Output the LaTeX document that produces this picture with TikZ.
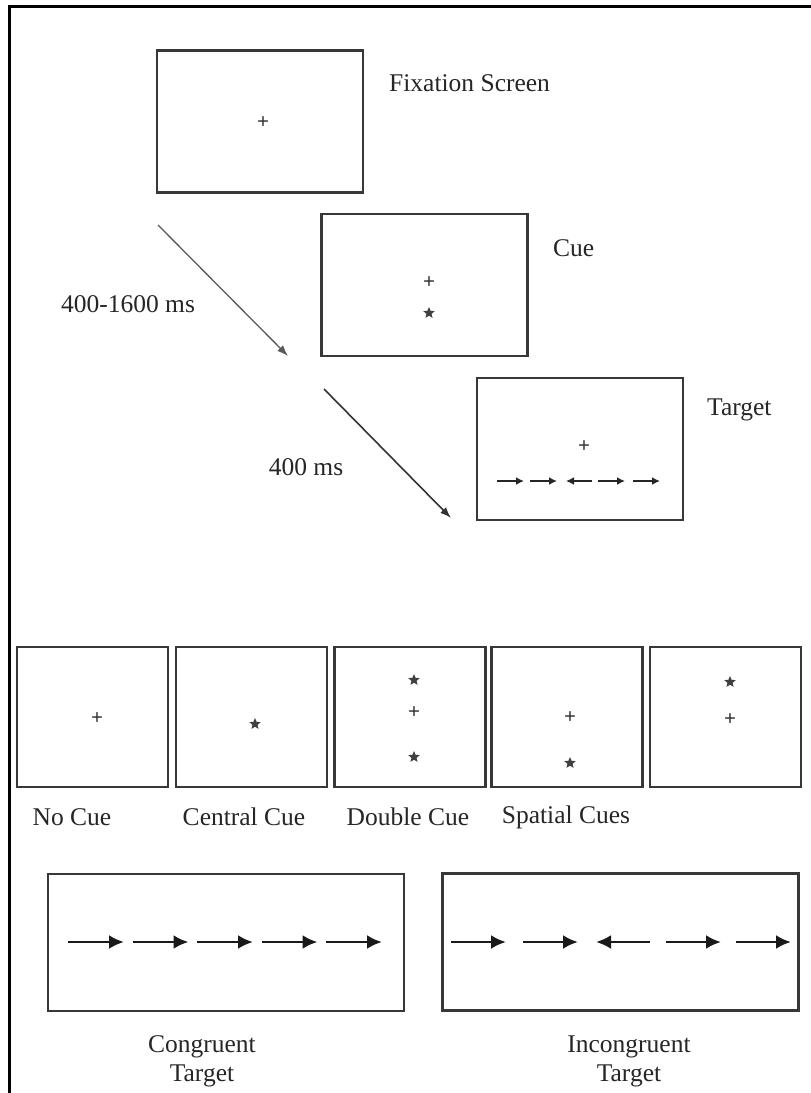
\documentclass[tikz,border=0pt]{standalone}
\usepackage{fontspec}
\setmainfont{Liberation Serif}
\usetikzlibrary{arrows.meta,shapes.geometric}
\begin{document}
\begin{tikzpicture}[x=1pt,y=-1pt,
  screen/.style={draw=black!78,line width=2.6pt,inner sep=0pt,minimum width=206pt,minimum height=142pt},
  cuebox/.style={screen,minimum width=151pt,minimum height=140pt},
  widebox/.style={screen,minimum width=356pt,minimum height=137pt},
  lbl/.style={font=\fontsize{25.5}{29}\selectfont,text=black!85,inner sep=0pt,align=center},
  fixcross/.style={font=\fontsize{21}{21}\selectfont\bfseries,text=black!80,inner sep=0pt},
  cuestar/.style={star,star points=5,star point ratio=2.2,fill=black!75,inner sep=0pt,minimum size=12pt},
  stimarrow/.style={line width=2.8pt,black!90,-{Latex[length=15pt,width=14pt]}},
  smallarrow/.style={line width=2pt,black!85,-{Latex[length=8pt,width=8pt]}},
  timearrow/.style={line width=1.3pt,black!65,-{Latex[length=11pt,width=8pt]}}]
\useasboundingbox (0,0) rectangle (811,1093);
\draw[line width=3pt] (9,1093) -- (9,6) -- (811,6);

% sequence of screens
\node[screen] (fix) at (260,121.5) {};
\node[fixcross] (fixc) at (263,123) {+};
\node[lbl,anchor=west] (fixl) at (389,83) {Fixation Screen};

\node[screen] (cue) at (424.5,285) {};
\node[fixcross] (cuec) at (429,283) {+};
\node[cuestar] (cues) at (429,313) {};
\node[lbl,anchor=west] (cuel) at (553,248) {Cue};

\node[screen] (tgt) at (580,449) {};
\node[fixcross] (tgtc) at (584,447) {+};
\node[lbl,anchor=west] (tgtl) at (707,410) {Target};
\foreach \xa in {497,530,598,633}
  \draw[smallarrow] (\xa,481) -- ++(27,0);
\draw[smallarrow] (592,481) -- (566,481);

% timing
\coordinate (t1a) at (158,225);
\coordinate (t1b) at (288,356);
\coordinate (t2a) at (324,389);
\coordinate (t2b) at (451,518);
\draw[timearrow] (t1a) -- (t1b);
\draw[timearrow,black!80,line width=1.6pt] (t2a) -- (t2b);
\node[lbl] (soa1) at (128,304) {400-1600 ms};
\node[lbl] (soa2) at (306,467) {400 ms};

% cue conditions
\node[cuebox] (nocue) at (92.5,717) {};
\node[cuebox] (central) at (251.5,717) {};
\node[cuebox] (double) at (410,717) {};
\node[cuebox] (spatup) at (567,717) {};
\node[cuebox] (spatdn) at (725.5,717) {};

\node[fixcross] (c1) at (97,719) {+};
\node[cuestar] (s2) at (255,724) {};
\node[cuestar] (s3a) at (414,680) {};
\node[fixcross] (c3) at (414,713) {+};
\node[cuestar] (s3b) at (414,757) {};
\node[fixcross] (c4) at (570,718) {+};
\node[cuestar] (s4) at (570,763) {};
\node[cuestar] (s5) at (730,682) {};
\node[fixcross] (c5) at (730,720) {+};

\node[lbl] (nocuel) at (72,817) {No Cue};
\node[lbl] (centrall) at (244,817) {Central Cue};
\node[lbl] (doublel) at (408,817) {Double Cue};
\node[lbl] (spatl) at (566,817) {Spatial Cues};

% flanker targets
\node[widebox] (cong) at (226,942.5) {};
\node[widebox] (incong) at (620.5,942) {};
\foreach \xa in {68,132.5,197,261.5,326}
  \draw[stimarrow] (\xa,942) -- ++(56,0);
\foreach \xa in {451,523,666,736}
  \draw[stimarrow] (\xa,942) -- ++(55,0);
\draw[stimarrow] (650,942) -- (596,942);

\node[lbl] (congl) at (202,1061) {Congruent\\Target};
\node[lbl] (incongl) at (629,1061) {Incongruent\\Target};
\end{tikzpicture}
\end{document}
